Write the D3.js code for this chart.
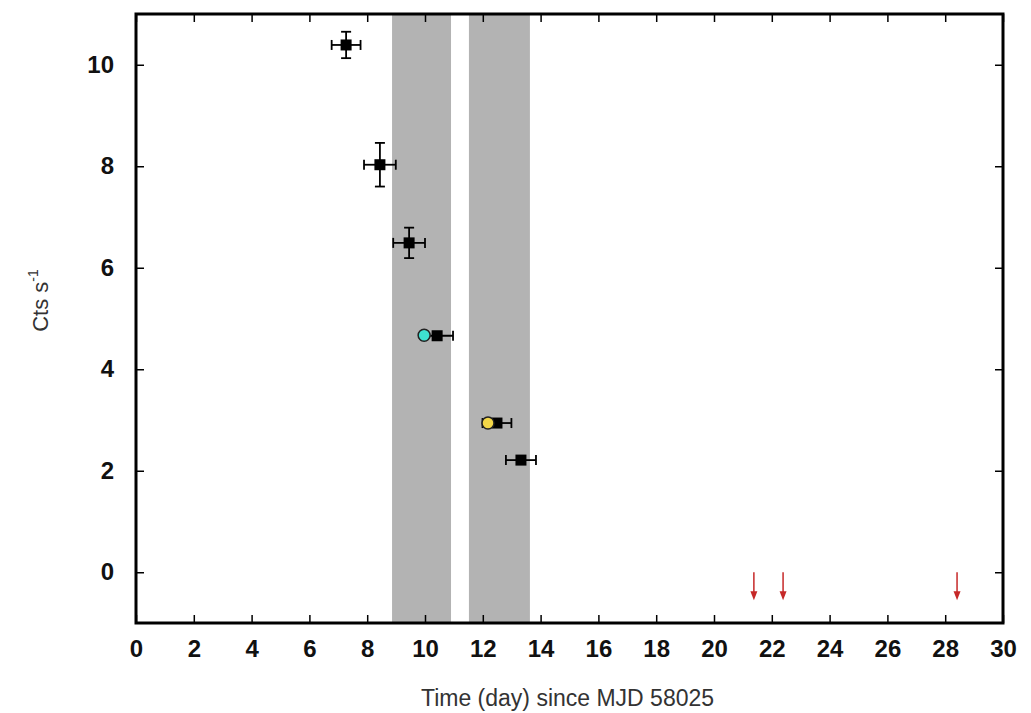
<!DOCTYPE html>
<html>
<head>
<meta charset="utf-8">
<script src="https://cdn.jsdelivr.net/npm/d3@7"></script>
<style>
  body { margin: 0; background: #fff; }
  text { font-family: "Liberation Sans", Arial, sans-serif; }
</style>
</head>
<body>
<svg id="chart" width="1031" height="713"></svg>
<script>
// black squares: time, xerr, rate, yerr
var sqT    = [7.27, 8.44, 9.45, 10.42, 12.49, 13.32];
var sqTerr = [0.5, 0.55, 0.55, 0.55, 0.5, 0.52];
var sqR    = [10.39, 8.03, 6.49, 4.66, 2.94, 2.21];
var sqRerr = [0.26, 0.43, 0.3, 0.05, 0.05, 0.08];

// coloured circles
var circT = [9.97, 12.18];
var circR = [4.67, 2.94];
var circC = ["#3ee0d0", "#f2d648"];

// upper limits (red arrows)
var ulT = [21.38, 22.39, 28.41];
var ulR = [0, 0, 0];

// shaded intervals
var bandStart = [8.86, 11.52];
var bandEnd   = [10.9, 13.63];

var xTicks = d3.range(0, 31, 2);
var yTicks = [0, 2, 4, 6, 8, 10];

var margin = {top: 14, right: 28, bottom: 90, left: 136},
    width = 1031 - margin.left - margin.right,
    height = 713 - margin.top - margin.bottom;

var svg = d3.select("#chart")
  .append("g")
    .attr("transform", "translate(" + margin.left + "," + margin.top + ")");

var x = d3.scaleLinear().domain([0, 30]).range([0, width]);
var y = d3.scaleLinear().domain([-1, 11]).range([height, 0]);

// bands
svg.selectAll(".band")
    .data(bandStart)
  .enter().append("rect")
    .attr("class", "band")
    .attr("x", function(d) { return x(d); })
    .attr("width", function(d, i) { return x(bandEnd[i]) - x(d); })
    .attr("y", 0)
    .attr("height", height)
    .attr("fill", "#b3b3b3");

// axes, ticks inward
var tickLen = 8;
svg.append("g")
    .attr("transform", "translate(0," + height + ")")
    .call(d3.axisBottom(x).tickValues(xTicks).tickSizeInner(-tickLen).tickSizeOuter(0).tickPadding(17));
svg.append("g")
    .call(d3.axisTop(x).tickValues(xTicks).tickSizeInner(-tickLen).tickSizeOuter(0).tickFormat(""));
svg.append("g")
    .call(d3.axisLeft(y).tickValues(yTicks).tickSizeInner(-tickLen).tickSizeOuter(0).tickPadding(22));
svg.append("g")
    .attr("transform", "translate(" + width + ",0)")
    .call(d3.axisRight(y).tickValues(yTicks).tickSizeInner(-tickLen).tickSizeOuter(0).tickFormat(""));

svg.selectAll(".domain").remove();
svg.selectAll(".tick line").attr("stroke", "#000").attr("stroke-width", 1.5);
svg.selectAll(".tick text")
    .attr("fill", "#111")
    .style("font-size", "24px")
    .style("font-weight", "bold");

// frame
svg.append("rect")
    .attr("x", 0).attr("y", 0)
    .attr("width", width).attr("height", height)
    .attr("fill", "none")
    .attr("stroke", "#000")
    .attr("stroke-width", 3);

// error bars
var cap = 5;
var eb = svg.selectAll(".eb")
    .data(sqT)
  .enter().append("g")
    .attr("class", "eb")
    .attr("stroke", "#000")
    .attr("stroke-width", 1.8);
eb.append("line")
    .attr("x1", function(d, i) { return x(d - sqTerr[i]); })
    .attr("x2", function(d, i) { return x(d + sqTerr[i]); })
    .attr("y1", function(d, i) { return y(sqR[i]); })
    .attr("y2", function(d, i) { return y(sqR[i]); });
eb.append("line")
    .attr("x1", function(d, i) { return x(d - sqTerr[i]); })
    .attr("x2", function(d, i) { return x(d - sqTerr[i]); })
    .attr("y1", function(d, i) { return y(sqR[i]) - cap; })
    .attr("y2", function(d, i) { return y(sqR[i]) + cap; });
eb.append("line")
    .attr("x1", function(d, i) { return x(d + sqTerr[i]); })
    .attr("x2", function(d, i) { return x(d + sqTerr[i]); })
    .attr("y1", function(d, i) { return y(sqR[i]) - cap; })
    .attr("y2", function(d, i) { return y(sqR[i]) + cap; });
eb.append("line")
    .attr("x1", function(d) { return x(d); })
    .attr("x2", function(d) { return x(d); })
    .attr("y1", function(d, i) { return y(sqR[i] + sqRerr[i]); })
    .attr("y2", function(d, i) { return y(sqR[i] - sqRerr[i]); });
eb.filter(function(d, i) { return sqRerr[i] > 0.1; }).append("line")
    .attr("x1", function(d) { return x(d) - cap; })
    .attr("x2", function(d) { return x(d) + cap; })
    .attr("y1", function(d, i) { return y(sqR[i] + sqRerr[i]); })
    .attr("y2", function(d, i) { return y(sqR[i] + sqRerr[i]); });
eb.filter(function(d, i) { return sqRerr[i] > 0.1; }).append("line")
    .attr("x1", function(d) { return x(d) - cap; })
    .attr("x2", function(d) { return x(d) + cap; })
    .attr("y1", function(d, i) { return y(sqR[i] - sqRerr[i]); })
    .attr("y2", function(d, i) { return y(sqR[i] - sqRerr[i]); });

// squares
var sq = 11;
svg.selectAll(".sq")
    .data(sqT)
  .enter().append("rect")
    .attr("class", "sq")
    .attr("x", function(d) { return x(d) - sq / 2; })
    .attr("y", function(d, i) { return y(sqR[i]) - sq / 2; })
    .attr("width", sq)
    .attr("height", sq)
    .attr("fill", "#000");

// circles
svg.selectAll(".circ")
    .data(circT)
  .enter().append("circle")
    .attr("cx", function(d) { return x(d); })
    .attr("cy", function(d, i) { return y(circR[i]); })
    .attr("r", 6)
    .attr("fill", function(d, i) { return circC[i]; })
    .attr("stroke", "#222")
    .attr("stroke-width", 1.5);

// upper limit arrows
var ul = svg.selectAll(".ul")
    .data(ulT)
  .enter().append("g")
    .attr("class", "ul");
ul.append("line")
    .attr("x1", function(d) { return x(d); })
    .attr("x2", function(d) { return x(d); })
    .attr("y1", function(d, i) { return y(ulR[i]); })
    .attr("y2", function(d, i) { return y(ulR[i]) + 22; })
    .attr("stroke", "#c62828")
    .attr("stroke-width", 1.5);
ul.append("path")
    .attr("d", function(d, i) {
      var px = x(d), py = y(ulR[i]) + 28;
      return "M" + (px - 3.5) + "," + (py - 9) + "L" + (px + 3.5) + "," + (py - 9) + "L" + px + "," + py + "Z";
    })
    .attr("fill", "#c62828");

// axis labels
svg.append("text")
    .attr("transform", "translate(" + (width / 2 - 2) + "," + (height + 83) + ")")
    .style("text-anchor", "middle")
    .style("font-size", "23px")
    .attr("fill", "#333")
    .text("Time (day) since MJD 58025");

var yl = svg.append("text")
    .attr("transform", "translate(-88," + (y(5) - 18) + ") rotate(-90)")
    .style("text-anchor", "middle")
    .style("font-size", "22px")
    .attr("fill", "#333");
yl.append("tspan").text("Cts s");
yl.append("tspan").attr("dy", -10).style("font-size", "14px").text("-1");
</script>
</body>
</html>
